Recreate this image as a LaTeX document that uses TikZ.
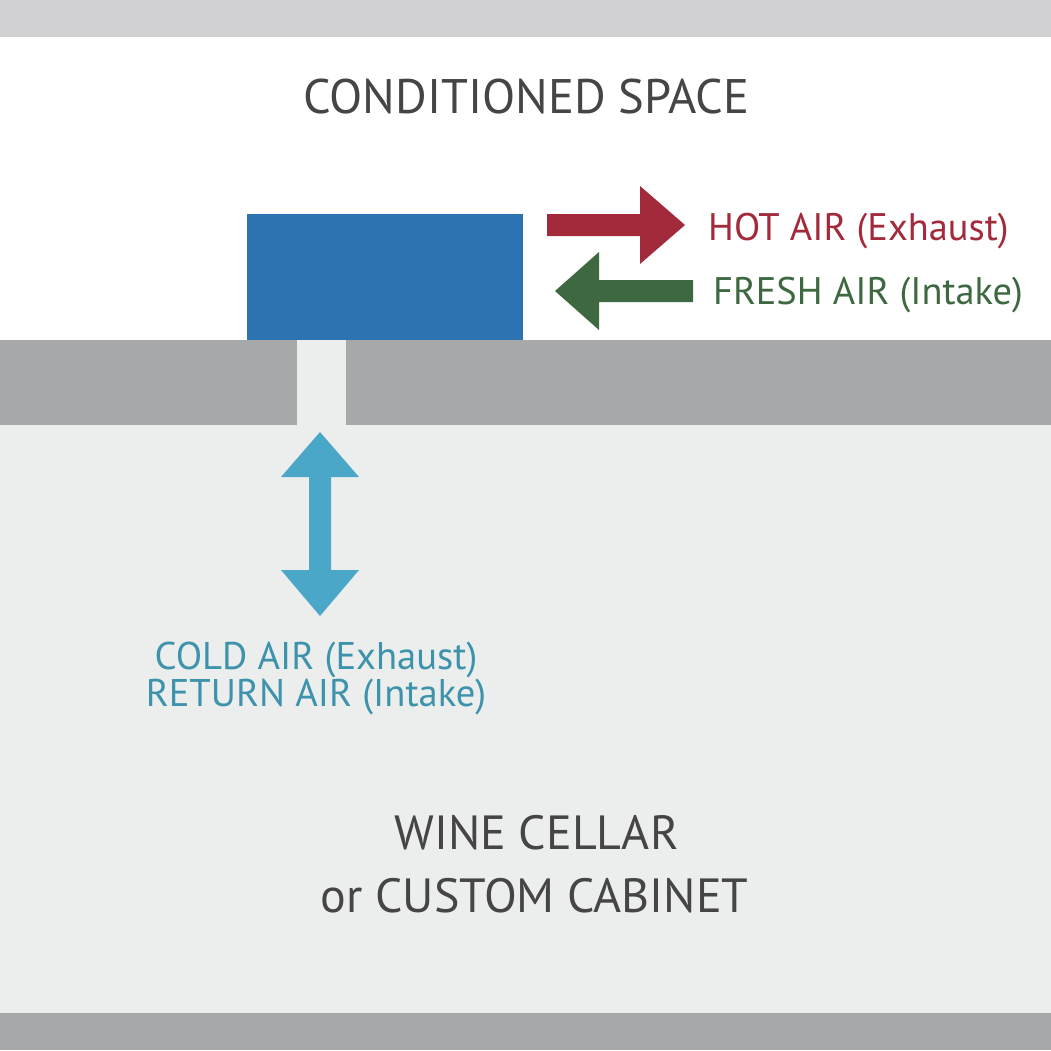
\documentclass[tikz,border=0pt]{standalone}
\usepackage{fontspec}
\setmainfont{PT Sans}
\definecolor{topbar}{HTML}{D1D1D3}
\definecolor{wall}{HTML}{A7A8A9}
\definecolor{cellar}{HTML}{ECEEED}
\definecolor{txtgray}{HTML}{454545}
\definecolor{unitblue}{HTML}{2E73B1}
\definecolor{hotred}{HTML}{A22A3B}
\definecolor{freshgreen}{HTML}{3E6840}
\definecolor{coldarrow}{HTML}{4BA7C8}
\definecolor{coldtext}{HTML}{3D93AB}
\begin{document}
\begin{tikzpicture}[x=1pt,y=-1pt,
  bigtxt/.style={font=\fontsize{48.5}{58}\selectfont, text=txtgray, inner sep=0pt},
  celltxt/.style={font=\fontsize{48}{63}\selectfont, text=txtgray, inner sep=0pt},
  airtxt/.style={font=\fontsize{38.4}{46}\selectfont, inner sep=0pt},
  coldtxt/.style={font=\fontsize{38.6}{37}\selectfont, text=coldtext, inner sep=0pt}]
\useasboundingbox (0,0) rectangle (1051,1050);
% background zones
\fill[white] (0,0) rectangle (1051,1050);
\fill[topbar] (0,0) rectangle (1051,37);
\fill[wall] (0,340) rectangle (1051,425);
\fill[cellar] (0,425) rectangle (1051,1013);
\fill[cellar] (297,340) rectangle (346,425);
\fill[wall] (0,1013) rectangle (1051,1050);
% unit
\node[fill=unitblue, minimum width=276pt, minimum height=126pt, inner sep=0pt, anchor=north west] (unit) at (247,214) {};
% hot air arrow
\fill[hotred] (547,214) -- (640,214) -- (640,186) -- (685,225) -- (640,264) -- (640,236) -- (547,236) -- cycle;
% fresh air arrow
\fill[freshgreen] (693,280) -- (599,280) -- (599,252) -- (555,291) -- (599,330) -- (599,302) -- (693,302) -- cycle;
% cold / return arrow
\fill[coldarrow] (320,432) -- (359,477) -- (331,477) -- (331,570) -- (359,570) -- (320,616) -- (281,570) -- (309,570) -- (309,477) -- (281,477) -- cycle;
% texts
\node[bigtxt, anchor=base] (cond) at (526.5,113) {CONDITIONED SPACE};
\node[airtxt, text=hotred, anchor=base west] (hot) at (708,240) {HOT AIR (Exhaust)};
\node[airtxt, text=freshgreen, anchor=base west] (fresh) at (713,304) {FRESH AIR (Intake)};
\node[coldtxt, anchor=base] (cold) at (316,669) {COLD AIR (Exhaust)};
\node[coldtxt, anchor=base] (ret) at (316,706) {RETURN AIR (Intake)};
\node[celltxt, anchor=base] (wine) at (536.5,849) {WINE CELLAR};
\node[celltxt, anchor=base] (cab) at (534.5,912) {or CUSTOM CABINET};
\end{tikzpicture}
\end{document}
